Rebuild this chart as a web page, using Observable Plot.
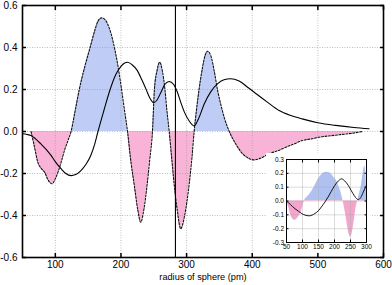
<!DOCTYPE html>
<html><head><meta charset="utf-8">
<script src="https://cdn.jsdelivr.net/npm/d3@7"></script>
<script src="https://cdn.jsdelivr.net/npm/@observablehq/plot@0.6"></script>
<style>
body{margin:0;background:#fff;}
#wrap{position:relative;width:392px;height:285px;}
#wrap svg{display:block;}
#inset{position:absolute;left:266px;top:153px;}
</style></head><body><div id="wrap"></div>
<script>
// ---- main chart data ----
const fillX = [63,68,73,79,84,88,95,100,104,109,114,119,124,130,136.5,145,153,160,165,170.5,175,180,185,190,195,200,205,210,215,220,226,230,235,240,244,248,251,255,259,263,267,270,273.5,278,281,286,291,297,304,308,311.5,315,319,324,328,332,337,342,347,352,358,365,375,385,395,403,412,426,440,451,463,476,490,502,520,537,555,568];
const fillV = [0,-0.07,-0.143,-0.178,-0.195,-0.225,-0.249,-0.225,-0.194,-0.145,-0.09,-0.045,0,0.095,0.2,0.31,0.4,0.48,0.525,0.541,0.535,0.51,0.465,0.4,0.32,0.22,0.11,0,-0.14,-0.249,-0.38,-0.432,-0.37,-0.249,-0.13,0,0.2,0.29,0.33,0.29,0.2,0.1,0,-0.15,-0.249,-0.38,-0.463,-0.4,-0.249,-0.13,0,0.1,0.2,0.3,0.36,0.382,0.36,0.29,0.2,0.13,0.06,0,-0.06,-0.105,-0.128,-0.135,-0.128,-0.106,-0.09,-0.075,-0.06,-0.043,-0.035,-0.027,-0.02,-0.014,-0.007,0];
const lineX = [50,57,63,70,78,86,93.5,101,109,116,124,131,139,147,154,160,165,174,183.5,192,200,205,210,217,225,232,238,244,250,255,261,267,273.5,280,286,291,297,304,311.5,318,327,337,347,357,367,380,393,408,423,441,458,476,500,527,555,578];
const lineV = [-0.011,-0.014,-0.019,-0.035,-0.059,-0.085,-0.114,-0.148,-0.178,-0.2,-0.21,-0.205,-0.186,-0.155,-0.114,-0.06,0,0.1,0.2,0.27,0.31,0.325,0.33,0.318,0.29,0.245,0.203,0.16,0.137,0.15,0.187,0.225,0.238,0.225,0.187,0.14,0.09,0.05,0.027,0.06,0.132,0.19,0.227,0.246,0.251,0.24,0.211,0.175,0.14,0.1,0.077,0.06,0.042,0.029,0.019,0.013];
const markerX = [283];
const xTicks = [100,200,300,400,500,600];
const xGrid = [100,200,300,400,500];
const yTicks = [-0.6,-0.4,-0.2,0,0.2,0.4,0.6];
const yGrid = [-0.4,-0.2,0,0.2,0.4];
const xLabel = "radius of sphere (pm)";

// ---- inset data ----
const insetFillX = [50,56,62,68,74,80,86,92,98,106,116,128,140,150,158,166,175,184,192,200,206,213,220,227,232,237,242,246,250,254,258,262,266,272,278,284,288,292,295,298,300];
const insetFillV = [0,-0.04,-0.09,-0.125,-0.139,-0.135,-0.12,-0.1,-0.065,0,0.03,0.065,0.115,0.16,0.185,0.202,0.208,0.204,0.19,0.165,0.149,0.11,0.065,0,-0.06,-0.126,-0.2,-0.245,-0.258,-0.245,-0.2,-0.14,-0.07,0,0.055,0.113,0.18,0.235,0.251,0.2,0.1];
const insetLineX = [50,62,76,88,97,108,120,130,139,150,159,170,180,190,201,212,222,232,243,251,258,266,274,282,290,296,300];
const insetLineV = [0,-0.025,-0.055,-0.075,-0.09,-0.102,-0.107,-0.102,-0.09,-0.07,-0.043,-0.008,0.029,0.07,0.113,0.145,0.16,0.145,0.113,0.08,0.053,0.025,0.01,0.025,0.065,0.095,0.113];
const insetXTicks = [50,100,150,200,250,300];
const insetXGrid = [100,150,200,250];
const insetYTicks = [-0.3,-0.2,-0.1,0,0.1,0.2,0.3];
const insetYGrid = [-0.2,-0.1,0,0.1,0.2];

const BLUE = "#bfcdf6", PINK = "#f8b3d7";
const BLUE2 = "#afc1f1", PINK2 = "#f3a5cd";

const fillData = fillX.map((x, i) => ({x, v: fillV[i]}));
const lineData = lineX.map((x, i) => ({x, v: lineV[i]}));
const insetFill = insetFillX.map((x, i) => ({x, v: insetFillV[i]}));
const insetLine = insetLineX.map((x, i) => ({x, v: insetLineV[i]}));

function signGradient(id, top, bottom) {
  return (index, scales, values, dims) => {
    const y0 = scales.y(0);
    const defs = d3.create("svg:defs");
    const g = defs.append("linearGradient").attr("id", id)
      .attr("gradientUnits", "userSpaceOnUse")
      .attr("x1", 0).attr("x2", 0).attr("y1", 0).attr("y2", dims.height);
    g.append("stop").attr("offset", y0 / dims.height).attr("stop-color", top);
    g.append("stop").attr("offset", y0 / dims.height).attr("stop-color", bottom);
    return defs.node();
  };
}

const curve = "monotone-x";
const fmt1 = d => d.toFixed(1);

const main = Plot.plot({
  width: 392, height: 285,
  marginLeft: 22, marginRight: 9, marginTop: 5, marginBottom: 28,
  style: {fontFamily: "'Liberation Sans', Arial, sans-serif", fontSize: "10px", color: "#000", background: "#fff", overflow: "visible"},
  x: {domain: [50, 600], label: null},
  y: {domain: [-0.6, 0.6], label: null},
  marks: [
    signGradient("signMain", BLUE, PINK),
    Plot.areaY(fillData, {x: "x", y: "v", fill: "url(#signMain)", curve}),
    Plot.gridX(xGrid, {stroke: "#999", strokeOpacity: 0.8, strokeDasharray: "1,1.5", strokeWidth: 0.8}),
    Plot.gridY(yGrid, {stroke: "#999", strokeOpacity: 0.8, strokeDasharray: "1,1.5", strokeWidth: 0.8}),
    Plot.line(fillData, {x: "x", y: "v", stroke: "#111", strokeWidth: 1.1, strokeDasharray: "2,1.5", curve}),
    Plot.line(lineData, {x: "x", y: "v", stroke: "#000", strokeWidth: 1.1, curve}),
    Plot.ruleX(markerX, {stroke: "#000", strokeWidth: 1.1}),
    Plot.frame({stroke: "#000", strokeWidth: 1.6}),
    Plot.axisX(xTicks, {anchor: "bottom", tickSize: -4, tickPadding: 7, strokeWidth: 1.5, label: null}),
    Plot.axisX(xTicks, {anchor: "top", tickSize: -4, tickPadding: 8, strokeWidth: 1.5, tickFormat: () => "", label: null}),
    Plot.axisY(yTicks, {anchor: "left", tickSize: -4, tickPadding: 9, strokeWidth: 1.5, tickFormat: fmt1, label: null}),
    Plot.axisY(yTicks, {anchor: "right", tickSize: -4, tickPadding: 8, strokeWidth: 1.5, tickFormat: () => "", label: null}),
    Plot.text([xLabel], {text: d => d, frameAnchor: "bottom", dy: 22, fontSize: 9.2})
  ]
});

const inset = Plot.plot({
  width: 106, height: 99,
  marginLeft: 20, marginRight: 6, marginTop: 6, marginBottom: 10,
  style: {fontFamily: "'Liberation Sans', Arial, sans-serif", fontSize: "6.5px", color: "#000", background: "#fff", overflow: "visible"},
  x: {domain: [50, 300], label: null},
  y: {domain: [-0.3, 0.3], label: null},
  marks: [
    signGradient("signInset", BLUE2, PINK2),
    Plot.areaY(insetFill, {x: "x", y: "v", fill: "url(#signInset)", curve}),
    Plot.gridX(insetXGrid, {stroke: "#aaa", strokeOpacity: 0.6, strokeWidth: 0.7}),
    Plot.gridY(insetYGrid, {stroke: "#aaa", strokeOpacity: 0.6, strokeWidth: 0.7}),
    Plot.line(insetLine, {x: "x", y: "v", stroke: "#000", strokeWidth: 0.9, curve}),
    Plot.frame({stroke: "#000", strokeWidth: 1}),
    Plot.axisX(insetXTicks, {anchor: "bottom", tickSize: -2.5, tickPadding: 4, strokeWidth: 1, label: null}),
    Plot.axisX(insetXTicks, {anchor: "top", tickSize: -2.5, tickPadding: 4, strokeWidth: 1, tickFormat: () => "", label: null}),
    Plot.axisY(insetYTicks, {anchor: "left", tickSize: -2.5, tickPadding: 5, strokeWidth: 1, tickFormat: fmt1, label: null}),
    Plot.axisY(insetYTicks, {anchor: "right", tickSize: -2.5, tickPadding: 4, strokeWidth: 1, tickFormat: () => "", label: null})
  ]
});
inset.id = "inset";

const wrap = document.getElementById("wrap");
wrap.appendChild(main);
wrap.appendChild(inset);
</script>
</body></html>
